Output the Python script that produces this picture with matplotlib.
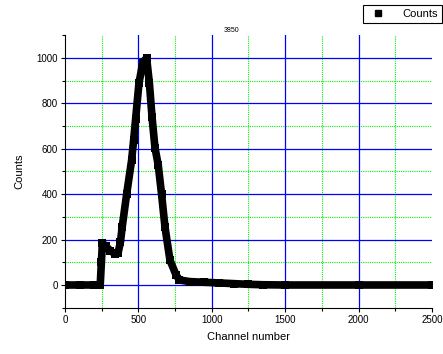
import matplotlib
matplotlib.use('Agg')
import matplotlib.pyplot as plt
from matplotlib.ticker import MultipleLocator

# spectrum
channel = [0, 100, 200, 240, 248, 255, 280, 310, 340, 362, 378, 390, 420, 454, 468, 481,
           504, 530, 556, 575, 593, 613, 635, 658, 681, 715, 756, 780, 850, 950, 1050,
           1150, 1250, 1350, 1500, 2000, 2500]
counts = [0, 0, 0, 0, 100, 185, 170, 150, 138, 142, 190, 257, 400, 550, 640, 730,
          889, 980, 1000, 890, 740, 605, 530, 400, 257, 110, 45, 22, 15, 12, 9,
          6, 3, 1, 0, 0, 0]

x_major_grid = [500, 1000, 1500, 2000]
x_minor_grid = [250, 750, 1250, 1750, 2250]
y_major_grid = [0, 200, 400, 600, 800, 1000]
y_minor_grid = [100, 300, 500, 700, 900]

plt.rcParams['font.family'] = ['Liberation Sans', 'DejaVu Sans']

fig = plt.figure(figsize=(4.43, 3.54), dpi=100)
ax = fig.add_axes([0.1467, 0.1308, 0.8283, 0.7695])

for v in x_minor_grid:
    ax.axvline(v, color='#00ee00', linewidth=0.8, linestyle=(0, (1, 1)), zorder=0)
for v in y_minor_grid:
    ax.axhline(v, color='#00ee00', linewidth=0.8, linestyle=(0, (1, 1)), zorder=0)
for v in x_major_grid:
    ax.axvline(v, color='#0000ff', linewidth=0.9, zorder=1)
for v in y_major_grid:
    ax.axhline(v, color='#0000ff', linewidth=0.9, zorder=1)

ax.plot(channel, counts, color='black', linewidth=5.5, marker='s', markersize=5.5,
        markeredgewidth=0, solid_capstyle='butt', solid_joinstyle='round',
        label='Counts', zorder=3)

ax.set_xlim(0, 2500)
ax.set_ylim(-100, 1100)
ax.xaxis.set_major_locator(MultipleLocator(500))
ax.xaxis.set_minor_locator(MultipleLocator(250))
ax.yaxis.set_major_locator(MultipleLocator(200))
ax.yaxis.set_minor_locator(MultipleLocator(100))

ax.spines['top'].set_visible(False)
ax.spines['right'].set_visible(False)
ax.tick_params(which='major', direction='out', length=3, width=0.8, labelsize=7, pad=2)
ax.tick_params(which='minor', direction='out', length=2, width=0.8)

ax.set_xlabel('Channel number', fontsize=8, labelpad=5)
ax.set_ylabel('Counts', fontsize=8, labelpad=9)
ax.text(0.455, 1.005, '3850', transform=ax.transAxes, fontsize=5, ha='center', va='bottom')

leg = fig.legend(handles=[plt.Line2D([], [], color='black', marker='s', linestyle='none',
                                     markersize=5)],
                 labels=['Counts'], loc='upper right', bbox_to_anchor=(0.998, 0.986),
                 fontsize=8, fancybox=False, edgecolor='black', framealpha=1,
                 handlelength=2.0, handletextpad=1.2, borderpad=0.35, borderaxespad=0)
leg.get_frame().set_linewidth(0.8)

fig.savefig('out.png', dpi=100)
